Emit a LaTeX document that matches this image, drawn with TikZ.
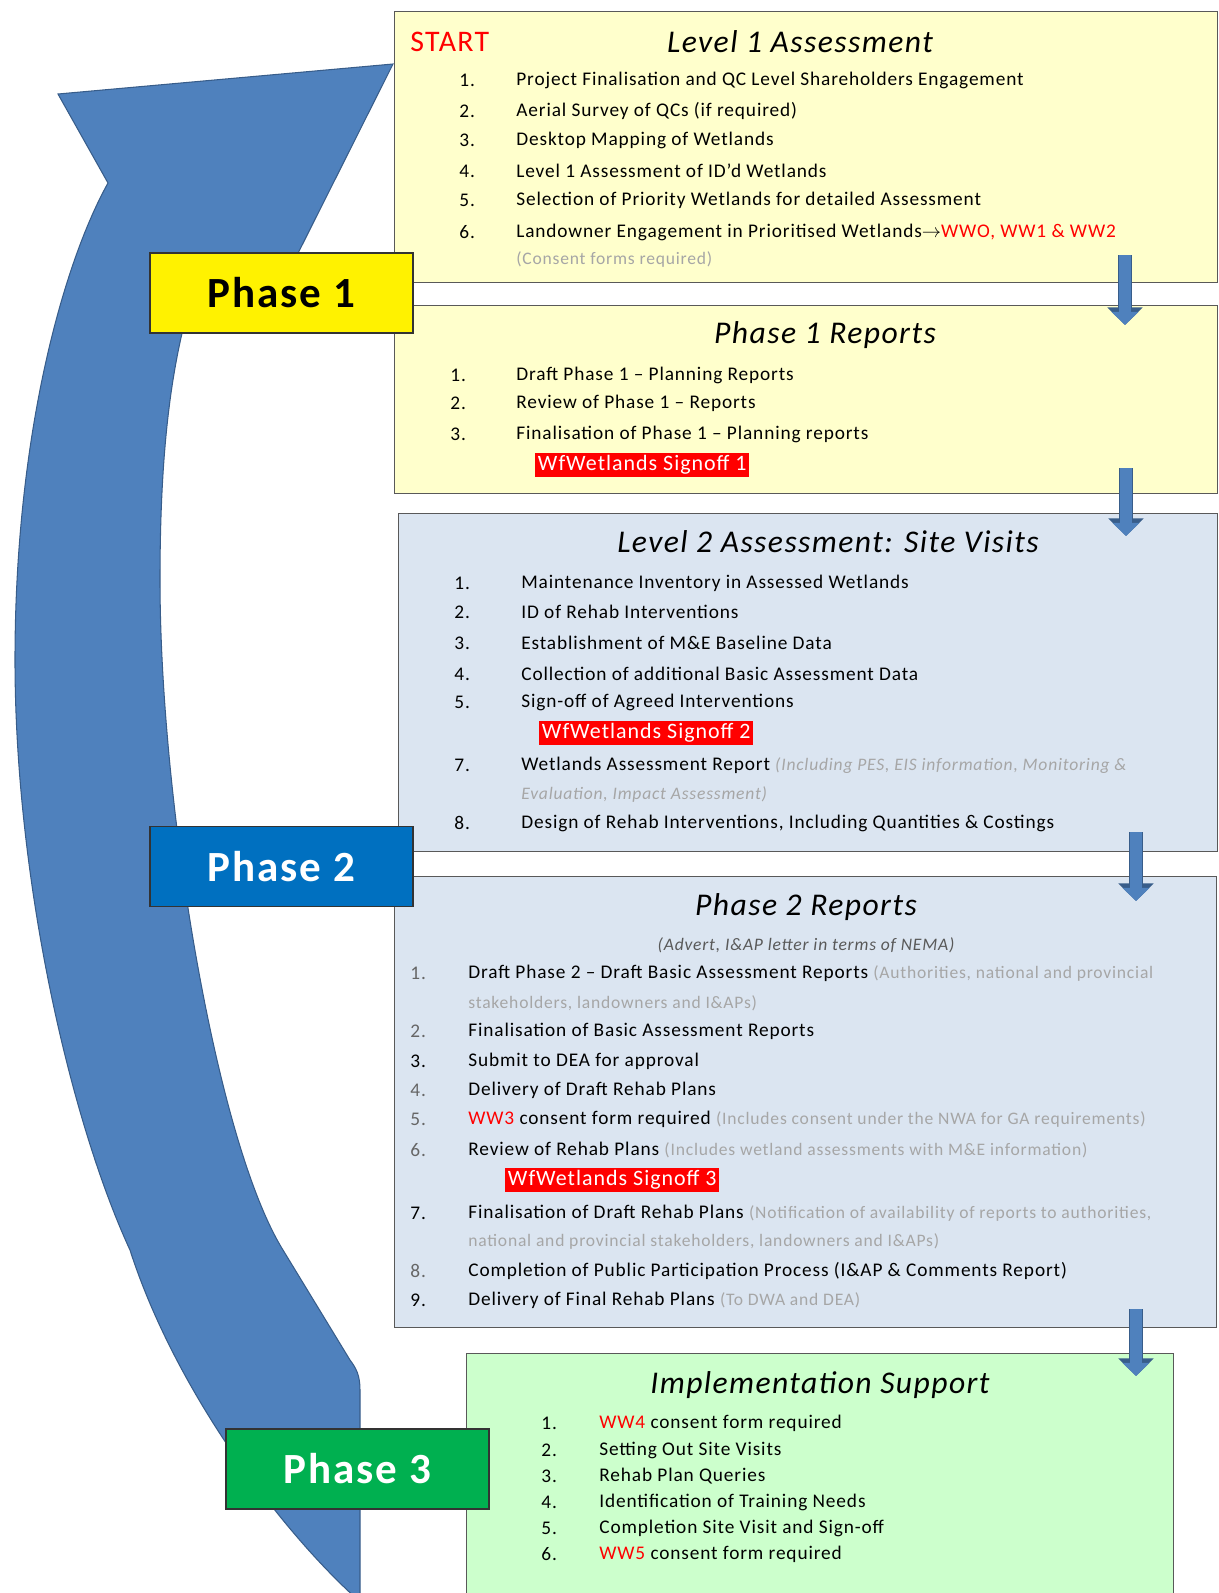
\documentclass[tikz,border=0pt]{standalone}
\usepackage{fontspec}
\setmainfont{Carlito}[LetterSpace=4.5]
\usepackage{tikz}
\usetikzlibrary{arrows.meta,calc}

\definecolor{bigblue}{HTML}{4F81BD}
\definecolor{bigedge}{HTML}{385D8A}
\definecolor{paleyellow}{HTML}{FFFFCC}
\definecolor{paleblue}{HTML}{DBE5F1}
\definecolor{palegreen}{HTML}{CCFFCC}
\definecolor{phaseblue}{HTML}{0070C0}
\definecolor{phasegreen}{HTML}{00B050}
\definecolor{notegray}{HTML}{A6A6A6}
\newcommand{\redtxt}[1]{\textcolor{red}{#1}}
\newcommand{\notetxt}[1]{{\fontsize{10}{12}\selectfont\color{notegray}#1}}

\begin{document}
\begin{tikzpicture}[x=0.02cm,y=-0.02cm,
	panel/.style={draw=black!65,line width=0.8pt,anchor=north west,inner sep=0pt},
	phase/.style={draw=black!80,line width=0.8pt,minimum width=5.26cm,minimum height=1.6cm,font=\fontsize{24.5}{30}\selectfont\bfseries},
	title/.style={inner sep=0pt,font=\fontsize{18}{22}\selectfont\itshape},
	item/.style={anchor=west,inner sep=0pt,font=\fontsize{11}{13}\selectfont},
	signoff/.style={fill=red,text=white,anchor=west,inner sep=1.5pt,font=\fontsize{12.5}{15}\selectfont},
	downarr/.style={draw=bigedge,line width=8.5pt,-{Triangle[width=19.5pt,length=10pt]},
		postaction={draw=bigblue,line width=6.5pt,-{Triangle[width=15pt,length=7.5pt]}}}]
	\useasboundingbox (0,0) rectangle (1218,1593);
	\filldraw[fill=bigblue,draw=bigedge,line width=0.6pt]
		(393,64) -- (58,94) -- (108,183)
		.. controls (65,260) and (15,430) .. (15,660)
		.. controls (15,880) and (70,1120) .. (130,1250)
		.. controls (175,1390) and (280,1530) .. (358,1600)
		-- (360,1600) -- (360,1390)
		.. controls (360,1375) and (356,1368) .. (350,1360)
		-- (283,1250)
		.. controls (215,1140) and (160,800) .. (160,580)
		.. controls (160,470) and (168,390) .. (184,325)
		-- (262,325) -- cycle;

	\node[panel,fill=paleyellow,minimum width=16.46cm,minimum height=5.42cm] (lvl1) at (394,11) {};
	\node[panel,fill=paleyellow,minimum width=16.46cm,minimum height=3.76cm] (rep1) at (394,305) {};
	\node[panel,fill=paleblue,minimum width=16.38cm,minimum height=6.76cm] (lvl2) at (398,513) {};
	\node[panel,fill=paleblue,minimum width=16.44cm,minimum height=9.02cm] (rep2) at (394,876) {};
	\node[panel,fill=palegreen,minimum width=14.14cm,minimum height=5.2cm] (impl) at (466,1353) {};

	\node[item,text=red,font=\fontsize{17}{20}\selectfont] (start) at (410,42) {START};
	\node[title] (t1) at (800,42) {Level 1 Assessment};
	\foreach \n/\y/\txt in {1/80/{Project Finalisation and QC Level Shareholders Engagement},
		2/111/{Aerial Survey of QCs (if required)},
		3/140/{Desktop Mapping of Wetlands},
		4/171/{Level 1 Assessment of ID’d Wetlands},
		5/200/{Selection of Priority Wetlands for detailed Assessment},
		6/232/{Landowner Engagement in Prioritised Wetlands$\rightarrow$\redtxt{WWO, WW1 \& WW2}}}{
		\node[item] (a\n) at (459,\y) {\n.};
		\node[item] (at\n) at (516,\y) {\txt};
	}
	\node[item] (at6b) at (516,259) {\notetxt{(Consent forms required)}};

	\node[title] (t2) at (825,335) {Phase 1 Reports};
	\foreach \n/\y/\txt in {1/375/{Draft Phase 1 -- Planning Reports},
		2/403/{Review of Phase 1 -- Reports},
		3/434/{Finalisation of Phase 1 -- Planning reports}}{
		\node[item] (b\n) at (450,\y) {\n.};
		\node[item] (bt\n) at (516,\y) {\txt};
	}
	\node[signoff] (so1) at (535,465) {WfWetlands Signoff 1};

	\node[title] (t3) at (828,542) {Level 2 Assessment: Site Visits};
	\foreach \n/\y/\txt in {1/583/{Maintenance Inventory in Assessed Wetlands},
		2/612/{ID of Rehab Interventions},
		3/643/{Establishment of M\&E Baseline Data},
		4/674/{Collection of additional Basic Assessment Data},
		5/702/{Sign-off of Agreed Interventions},
		7/765/{Wetlands Assessment Report \notetxt{\itshape (Including PES, EIS information, Monitoring \&}},
		8/823/{Design of Rehab Interventions, Including Quantities \& Costings}}{
		\node[item] (c\n) at (454,\y) {\n.};
		\node[item] (ct\n) at (521,\y) {\txt};
	}
	\node[signoff] (so2) at (539,733) {WfWetlands Signoff 2};
	\node[item] (ct7b) at (521,794) {\notetxt{\itshape Evaluation, Impact Assessment)}};

	\node[title] (t4) at (806,907) {Phase 2 Reports};
	\node[inner sep=0pt,text=black!65,font=\fontsize{10}{12}\selectfont\itshape] (sub4) at (806,945) {(Advert, I\&AP letter in terms of NEMA)};
	\foreach \n/\y/\c/\txt in {1/973/black!60/{Draft Phase 2 -- Draft Basic Assessment Reports \notetxt{(Authorities, national and provincial}},
		2/1031/black!60/{Finalisation of Basic Assessment Reports},
		3/1061/black/{Submit to DEA for approval},
		4/1090/black!60/{Delivery of Draft Rehab Plans},
		5/1119/black!60/{\redtxt{WW3} consent form required \notetxt{(Includes consent under the NWA for GA requirements)}},
		6/1150/black!60/{Review of Rehab Plans \notetxt{(Includes wetland assessments with M\&E information)}},
		7/1213/black/{Finalisation of Draft Rehab Plans \notetxt{(Notification of availability of reports to authorities,}},
		8/1271/black!60/{Completion of Public Participation Process (I\&AP \& Comments Report)},
		9/1300/black/{Delivery of Final Rehab Plans \notetxt{(To DWA and DEA)}}}{
		\node[item,text=\c] (d\n) at (410,\y) {\n.};
		\node[item] (dt\n) at (468,\y) {\txt};
	}
	\node[item] (dt1b) at (468,1003) {\notetxt{stakeholders, landowners and I\&APs)}};
	\node[signoff] (so3) at (505,1180) {WfWetlands Signoff 3};
	\node[item] (dt7b) at (468,1241) {\notetxt{national and provincial stakeholders, landowners and I\&APs)}};

	\node[title] (t5) at (820,1385) {Implementation Support};
	\foreach \n/\y/\txt in {1/1423/{\redtxt{WW4} consent form required},
		2/1450/{Setting Out Site Visits},
		3/1476/{Rehab Plan Queries},
		4/1502/{Identification of Training Needs},
		5/1528/{Completion Site Visit and Sign-off},
		6/1554/{\redtxt{WW5} consent form required}}{
		\node[item] (e\n) at (541,\y) {\n.};
		\node[item] (et\n) at (599,\y) {\txt};
	}

	\node[phase,fill=yellow] (ph1) at (281.5,293) {Phase 1};
	\node[phase,fill=phaseblue,text=white] (ph2) at (281.5,866.5) {Phase 2};
	\node[phase,fill=phasegreen,text=white] (ph3) at (357.5,1469) {Phase 3};

	\coordinate (x1) at (1125,0);
	\coordinate (x2) at (1136,0);
	\draw[downarr] ($(lvl1.south -| x1)+(0,-28)$) -- ($(rep1.north -| x1)+(0,20)$);
	\draw[downarr] ($(rep1.south -| x1)+(1,-26)$) -- ($(lvl2.north -| x1)+(1,23)$);
	\draw[downarr] ($(lvl2.south -| x2)+(0,-20)$) -- ($(rep2.north -| x2)+(0,25)$);
	\draw[downarr] ($(rep2.south -| x2)+(0,-19)$) -- ($(impl.north -| x2)+(0,23)$);
\end{tikzpicture}
\end{document}
